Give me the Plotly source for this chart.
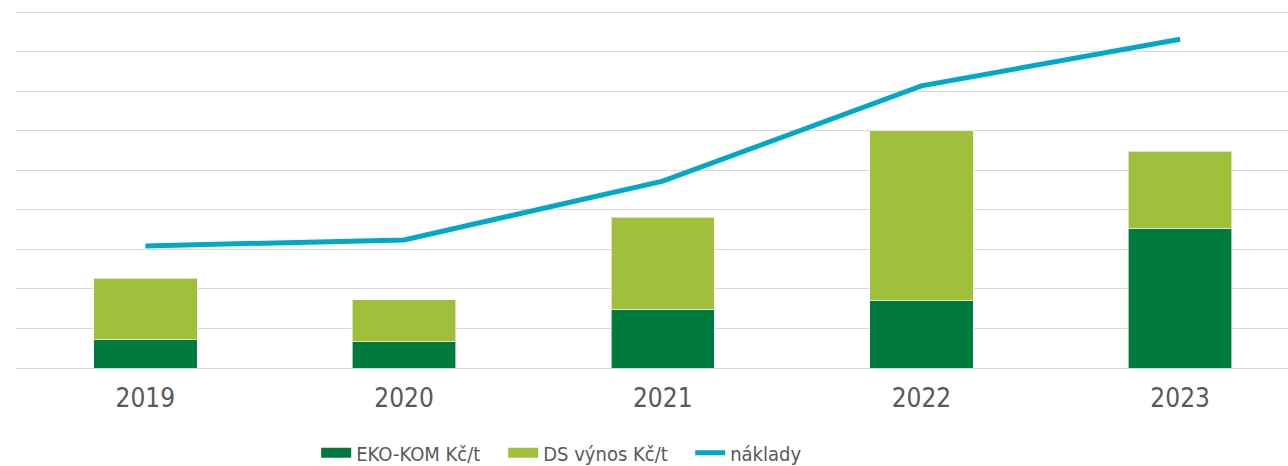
import plotly.graph_objects as go

years = ["2019", "2020", "2021", "2022", "2023"]
eko_kom = [710, 660, 1490, 1720, 3540]
ds_vynos = [1560, 1070, 2330, 4280, 1950]
naklady = [3090, 3240, 4730, 7140, 8320]

DARK = "#007A3D"
LIGHT = "#A0C03B"
LINE = "#00A9C8"
GRID = "#D9D9D9"
TEXT = "#595959"
FONT = "DejaVu Sans Condensed, DejaVu Sans, Verdana, sans-serif"

fig = go.Figure()
fig.add_trace(go.Bar(x=years, y=eko_kom, name="EKO-KOM Kč/t", showlegend=False,
                     marker=dict(color=DARK, line=dict(color="rgba(255,255,255,0.6)", width=1))))
fig.add_trace(go.Bar(x=years, y=ds_vynos, name="DS výnos Kč/t", showlegend=False,
                     marker=dict(color=LIGHT, line=dict(color="rgba(255,255,255,0.6)", width=1))))
fig.add_trace(go.Scatter(x=years, y=naklady, name="náklady", mode="lines", showlegend=False,
                         line=dict(color=LINE, width=5)))

# legend entries (wide rectangular swatches like the original)
fig.add_trace(go.Scatter(x=[None], y=[None], name="EKO-KOM Kč/t", mode="lines",
                         line=dict(color=DARK, width=14)))
fig.add_trace(go.Scatter(x=[None], y=[None], name="DS výnos Kč/t", mode="lines",
                         line=dict(color=LIGHT, width=14)))
fig.add_trace(go.Scatter(x=[None], y=[None], name="náklady", mode="lines",
                         line=dict(color=LINE, width=5)))

fig.update_layout(
    width=1288, height=466,
    margin=dict(l=16, r=0, t=10, b=98, autoexpand=False),
    barmode="stack",
    bargap=0.6,
    plot_bgcolor="white", paper_bgcolor="white",
    font=dict(family=FONT, color=TEXT),
    showlegend=True,
    legend=dict(orientation="h", x=0.236, xanchor="left", y=-0.237, yanchor="middle",
                font=dict(size=20, color=TEXT, family=FONT), traceorder="normal",
                itemwidth=30, entrywidth=142, bgcolor="rgba(0,0,0,0)"),
    xaxis=dict(range=[-0.5, 4.417], showgrid=False, showline=False, ticks="",
               tickfont=dict(size=26, color=TEXT, family=FONT), ticklabelstandoff=12,
               fixedrange=True),
    yaxis=dict(range=[0, 9060], dtick=1000, showgrid=True, gridcolor=GRID, gridwidth=1.3,
               zeroline=True, zerolinecolor=GRID, zerolinewidth=1.3,
               showticklabels=False, ticks="", fixedrange=True),
)

fig.write_html("out.html", config={"displayModeBar": False},
               post_script="document.body.style.margin='0';")
